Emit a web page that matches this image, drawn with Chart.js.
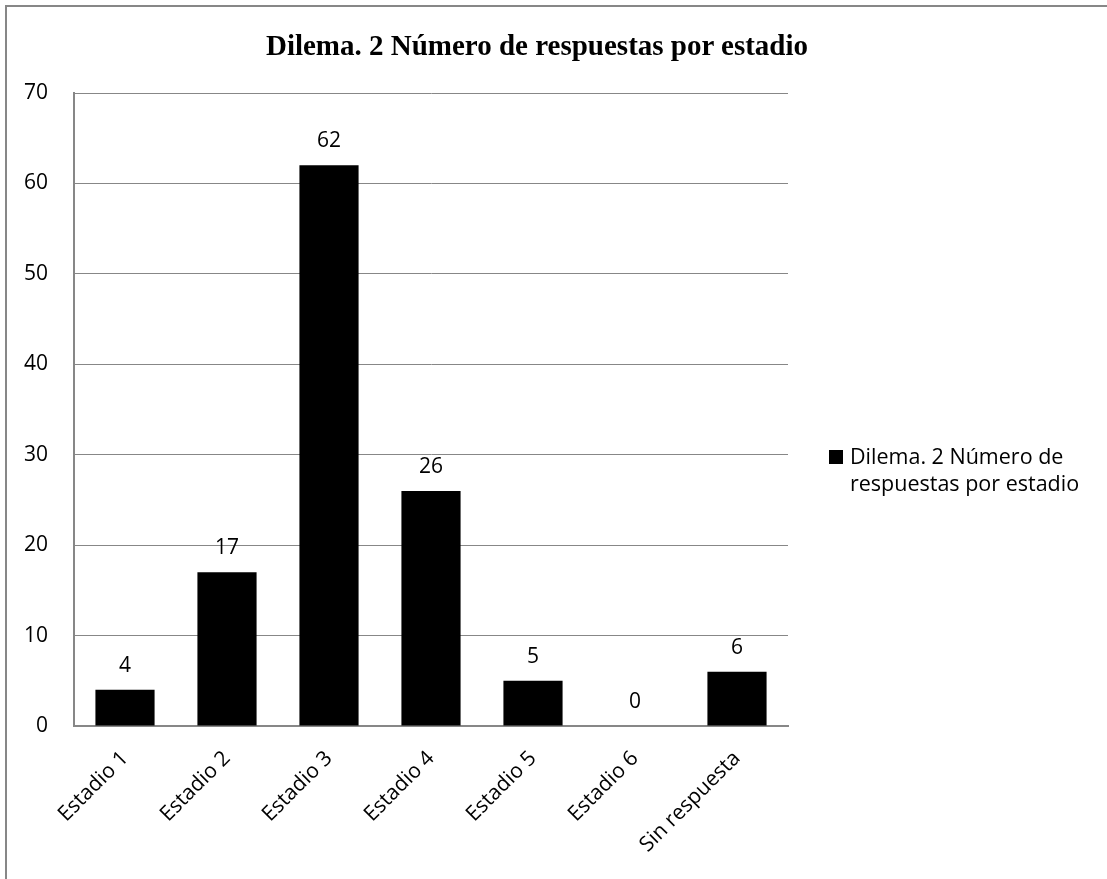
<!DOCTYPE html>
<html>
<head>
<meta charset="utf-8">
<script src="https://cdn.jsdelivr.net/npm/chart.js@4"></script>
<style>
  html, body { margin: 0; padding: 0; background: #fff; }
  #wrap { position: relative; width: 1107px; height: 879px; overflow: hidden; }
  #frame { position: absolute; left: 5px; top: 5px; width: 1200px; height: 1000px;
           border-top: 2px solid #878787; border-left: 2px solid #878787; }
  #title { position: absolute; left: 237px; width: 600px; top: 29px; text-align: center;
           font: bold 29px 'Liberation Serif', 'Times New Roman', serif; color: #000; white-space: nowrap; }
  #legend { position: absolute; left: 829px; top: 442px; font: 21.5px 'Open Sans', sans-serif;
            line-height: 27px; color: #000; }
  #legend .box { position: absolute; left: 0; top: 8px; width: 14px; height: 14px; background: #000; }
  #legend .txt { margin-left: 21px; }
  canvas { position: absolute; left: 0; top: 0; }
</style>
</head>
<body>
<div id="wrap">
  <div id="frame"></div>
  <canvas id="c" width="1107" height="879"></canvas>
  <div id="title">Dilema. 2 Número de respuestas por estadio</div>
  <div id="legend"><span class="box"></span><div class="txt">Dilema. 2 Número de<br>respuestas por estadio</div></div>
</div>
<script>
// datos del gráfico
const categorias = ['Estadio 1', 'Estadio 2', 'Estadio 3', 'Estadio 4', 'Estadio 5', 'Estadio 6', 'Sin respuesta'];
const respuestas = [4, 17, 62, 26, 5, 0, 6];
const serieNombre = 'Dilema. 2 Número de respuestas por estadio';

const fuente = "'Open Sans', sans-serif";

// etiquetas de valor encima de cada barra
const etiquetasValor = {
  id: 'etiquetasValor',
  afterDatasetsDraw(chart) {
    const ctx = chart.ctx;
    const meta = chart.getDatasetMeta(0);
    ctx.save();
    ctx.font = '21px ' + fuente;
    ctx.fillStyle = '#000';
    ctx.textAlign = 'center';
    ctx.textBaseline = 'alphabetic';
    meta.data.forEach((bar, i) => {
      ctx.fillText(String(respuestas[i]), bar.x, bar.y - 18);
    });
    ctx.restore();
  }
};

new Chart(document.getElementById('c'), {
  type: 'bar',
  data: {
    labels: categorias,
    datasets: [{
      label: serieNombre,
      data: respuestas,
      backgroundColor: '#000',
      borderWidth: 0,
      categoryPercentage: 1,
      barPercentage: 0.58
    }]
  },
  options: {
    responsive: false,
    animation: false,
    layout: { padding: { top: 93, right: 319, bottom: 0, left: 0 } },
    plugins: {
      legend: { display: false },
      title: { display: false },
      tooltip: { enabled: false }
    },
    scales: {
      x: {
        grid: { display: false, drawTicks: false },
        border: { display: true, color: '#878787', width: 2 },
        ticks: {
          color: '#000',
          font: { family: fuente, size: 21 },
          minRotation: 45,
          maxRotation: 45,
          padding: 20
        },
        afterFit: (s) => { s.height = 153; }
      },
      y: {
        min: 0,
        max: 70,
        grid: { color: '#878787', lineWidth: 1, drawTicks: false },
        border: { display: true, color: '#878787', width: 2 },
        ticks: {
          stepSize: 10,
          color: '#000',
          font: { family: fuente, size: 21 },
          padding: 26
        },
        afterFit: (s) => { s.width = 74; }
      }
    }
  },
  plugins: [etiquetasValor]
});
</script>
</body>
</html>
